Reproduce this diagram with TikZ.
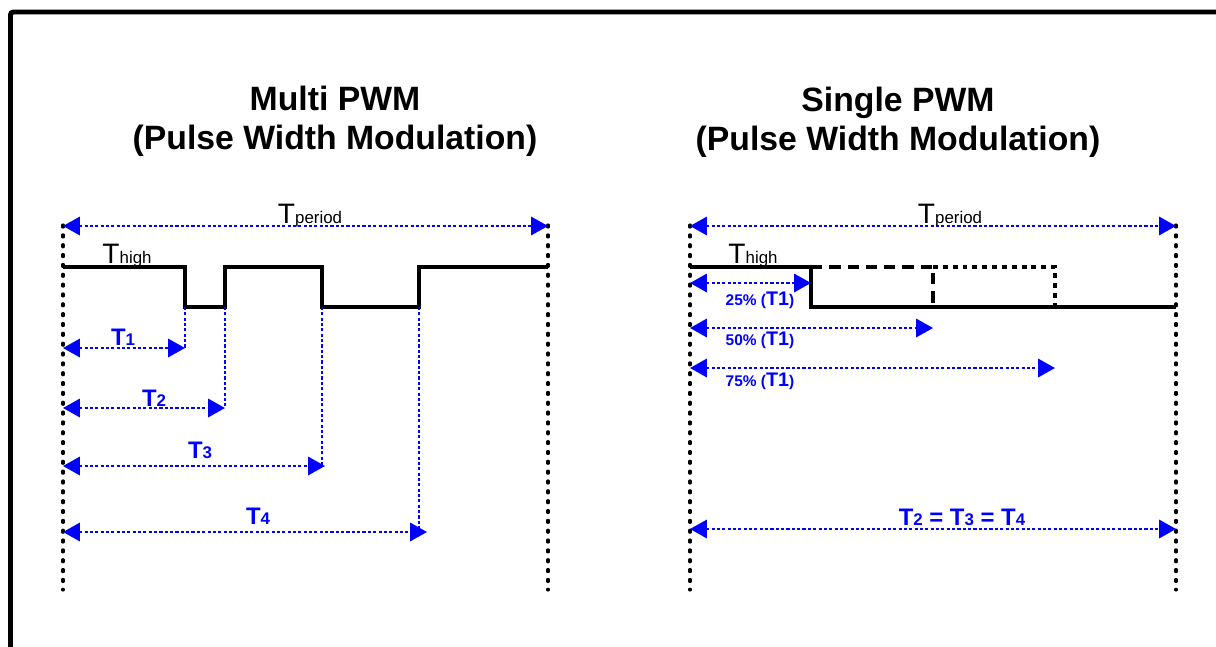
\documentclass[tikz,border=0pt]{standalone}
\usepackage{fontspec}
\setmainfont{Liberation Sans}
\usetikzlibrary{arrows.meta}
\tikzstyle{signal}=[draw,line width=2.6pt]
\tikzstyle{guide}=[draw,line width=2.2pt,line cap=round,dash pattern=on 1.5pt off 5.5pt]
\tikzstyle{drop}=[draw,blue,line width=1.7pt,dash pattern=on 2.2pt off 1.6pt]
\tikzstyle{span}=[drop,{Triangle[length=12pt,width=13pt]}-{Triangle[length=12pt,width=13pt]}]
\tikzstyle{title}=[font=\bfseries\fontsize{24}{28}\selectfont,align=center]
\tikzstyle{tlabel}=[font=\bfseries\fontsize{17}{20}\selectfont,text=blue,anchor=base,inner sep=0pt]
\tikzstyle{plabel}=[font=\bfseries\fontsize{11}{13}\selectfont,text=blue,anchor=base,inner sep=0pt]
\tikzstyle{blabel}=[font=\fontsize{20}{22}\selectfont,anchor=base,inner sep=0pt]
\newcommand{\Tsmall}[1]{T{\fontsize{12}{14}\selectfont #1}}
\newcommand{\Tblue}[1]{T{\fontsize{12}{14}\selectfont #1}}
\newcommand{\Tpct}[1]{#1\% ({\fontsize{14}{16}\selectfont T1})}

\begin{document}
\begin{tikzpicture}[x=0.025cm,y=-0.025cm]
    \useasboundingbox (0,0) rectangle (1216,646);
    % outer frame
    \draw[line width=3.5pt,rounded corners=2pt] (10.5,650) -- (10.5,12) -- (1220,12);

    % titles
    \node[title] (multi) at (335,121) {Multi PWM\\(Pulse Width Modulation)};
    \node[title] (single) at (898,122) {Single PWM\\(Pulse Width Modulation)};

    % ---------- Multi PWM ----------
    % period borders
    \foreach \name/\x/\y in {mlt/63/225, mlb/63/590, mrt/548/225, mrb/548/590}
        \coordinate (\name) at (\x,\y);
    \path[guide] (mlt) -- (mlb);
    \path[guide] (mrt) -- (mrb);

    % signal corners
    \foreach \name/\x/\y in {a0/63/267, a1/185/267, a2/185/307, a3/225/307, a4/225/267,
        a5/322/267, a6/322/307, a7/419/307, a8/419/267, a9/548/267}
        \coordinate (\name) at (\x,\y);
    \path[signal] (a0) -- (a1) -- (a2) -- (a3) -- (a4) -- (a5) -- (a6) -- (a7) -- (a8) -- (a9);

    % edge drops and spans
    \foreach \name/\x/\y in {mp0/63/226, mp1/548/226,
        s1/63/348, e1/185/348, s2/63/408, e2/225/408,
        s3/63/466, e3/325/466, s4/63/532, e4/427/532,
        d1/185/348, d2/225/408, d3/322/466, d4/419/532}
        \coordinate (\name) at (\x,\y);
    \foreach \top/\bot in {a2/d1, a3/d2, a6/d3, a7/d4}
        \path[drop] (\top) -- (\bot);
    \path[span] (mp0) -- (mp1);
    \foreach \i in {1,...,4}
        \path[span] (s\i) -- (e\i);

    \node[blabel] (mper) at (310,223) {\Tsmall{period}};
    \node[blabel] (mhigh) at (127,263) {\Tsmall{high}};
    \node[tlabel] (t1) at (123,345) {\Tblue{1}};
    \node[tlabel] (t2) at (154,406) {\Tblue{2}};
    \node[tlabel] (t3) at (200,458) {\Tblue{3}};
    \node[tlabel] (t4) at (258,524) {\Tblue{4}};

    % ---------- Single PWM ----------
    \foreach \name/\x/\y in {slt/690/225, slb/690/590, srt/1176/225, srb/1176/590}
        \coordinate (\name) at (\x,\y);
    \path[guide] (slt) -- (slb);
    \path[guide] (srt) -- (srb);

    \foreach \name/\x/\y in {b0/690/267, b1/811/267, b2/811/307, b3/1176/307,
        b4/933/267, b5/933/307, b6/1055/267, b7/1055/307}
        \coordinate (\name) at (\x,\y);
    \path[signal] (b0) -- (b1) -- (b2) -- (b3);
    \path[signal,dash pattern=on 8pt off 5pt] (b1) -- (b4) -- (b5);
    \path[signal,dash pattern=on 3.5pt off 3.5pt] (b4) -- (b6) -- (b7);

    \foreach \name/\x/\y in {sp0/690/226, sp1/1176/226,
        q1/690/283, f1/811/283, q2/690/328, f2/933/328,
        q3/690/368, f3/1055/368, q4/690/529, f4/1176/529}
        \coordinate (\name) at (\x,\y);
    \path[span] (sp0) -- (sp1);
    \foreach \i in {1,...,4}
        \path[span] (q\i) -- (f\i);

    \node[blabel] (sper) at (950,223) {\Tsmall{period}};
    \node[blabel] (shigh) at (753,263) {\Tsmall{high}};
    \node[plabel] (p25) at (760,305) {\Tpct{25}};
    \node[plabel] (p50) at (760,345) {\Tpct{50}};
    \node[plabel] (p75) at (760,386) {\Tpct{75}};
    \node[tlabel] (teq) at (962,525) {\Tblue{2} = \Tblue{3} = \Tblue{4}};
\end{tikzpicture}
\end{document}
